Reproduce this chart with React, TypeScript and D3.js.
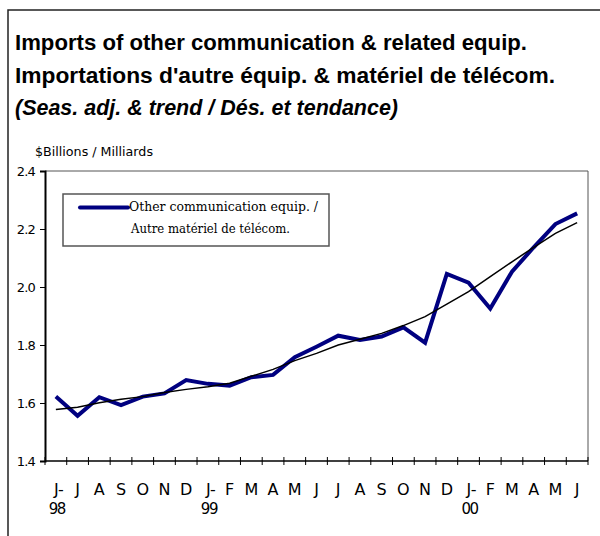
import React, { useEffect, useRef } from 'react';
import * as d3 from 'd3';

// Jun 1998 .. Jun 2000
const months = ['J-', 'J', 'A', 'S', 'O', 'N', 'D', 'J-', 'F', 'M', 'A', 'M', 'J', 'J', 'A', 'S', 'O', 'N', 'D', 'J-', 'F', 'M', 'A', 'M', 'J'];
const years = ['98', '', '', '', '', '', '', '99', '', '', '', '', '', '', '', '', '', '', '', '00', '', '', '', '', ''];
const seasAdj = [1.622, 1.556, 1.620, 1.593, 1.622, 1.633, 1.679, 1.666, 1.660, 1.689, 1.697, 1.758, 1.794, 1.832, 1.817, 1.829, 1.861, 1.808, 2.045, 2.015, 1.926, 2.053, 2.137, 2.217, 2.254];
const trend = [1.578, 1.585, 1.601, 1.613, 1.622, 1.636, 1.647, 1.656, 1.668, 1.692, 1.716, 1.746, 1.771, 1.800, 1.820, 1.840, 1.867, 1.898, 1.941, 1.984, 2.036, 2.087, 2.137, 2.185, 2.222];
const yTicks = [1.4, 1.6, 1.8, 2.0, 2.2, 2.4];

const App = () => {
  const svgRef = useRef<SVGSVGElement>(null);

  useEffect(() => {
    const svg = d3.select(svgRef.current);
    svg.selectAll('*').remove();

    const left = 45, right = 588, top = 171, bottom = 461;
    const idx = months.map((_, i) => i);

    const x = d3.scaleBand<number>().domain(idx).range([left, right]);
    const y = d3.scaleLinear().domain([1.4, 2.4]).range([bottom, top]);
    const cx = (i: number) => (x(i) as number) + x.bandwidth() / 2;

    // outer frame
    svg.append('rect')
      .attr('x', 8).attr('y', 10).attr('width', 600).attr('height', 540)
      .attr('fill', 'none').attr('stroke', '#222').attr('stroke-width', 1.5);

    // titles
    const titles = [
      { t: 'Imports of other communication & related equip.', y: 50, w: 512, italic: false },
      { t: "Importations d'autre équip. & matériel de télécom.", y: 83, w: 540, italic: false },
      { t: '(Seas. adj. & trend / Dés. et tendance)', y: 115, w: 383, italic: true },
    ];
    titles.forEach(d => {
      svg.append('text')
        .attr('x', 15).attr('y', d.y)
        .attr('font-family', 'Liberation Sans, Arial, sans-serif')
        .attr('font-weight', 'bold')
        .attr('font-style', d.italic ? 'italic' : 'normal')
        .attr('font-size', 22)
        .attr('textLength', d.w).attr('lengthAdjust', 'spacingAndGlyphs')
        .text(d.t);
    });

    svg.append('text')
      .attr('x', 35).attr('y', 156)
      .attr('font-family', 'DejaVu Sans, sans-serif')
      .attr('font-size', 12)
      .attr('textLength', 118).attr('lengthAdjust', 'spacingAndGlyphs')
      .text('$Billions / Milliards');

    // plot frame (top/right)
    svg.append('path')
      .attr('d', `M${left},${top}H${right}V${bottom}`)
      .attr('fill', 'none').attr('stroke', '#555').attr('stroke-width', 1);

    // y axis
    const yAxis = svg.append('g').attr('transform', `translate(${left},0)`)
      .call(d3.axisLeft(y).tickValues(yTicks).tickFormat(d3.format('.1f')).tickSize(5).tickPadding(5));
    yAxis.select('.domain').attr('stroke', '#000').attr('stroke-width', 2);
    yAxis.selectAll('.tick line').attr('stroke', '#000');
    yAxis.selectAll('.tick text')
      .attr('font-family', 'DejaVu Sans, sans-serif').attr('font-size', 13).attr('fill', '#000')
      .attr('letter-spacing', -0.8);

    // x axis
    const xg = svg.append('g');
    xg.append('line')
      .attr('x1', left).attr('x2', right).attr('y1', bottom).attr('y2', bottom)
      .attr('stroke', '#000').attr('stroke-width', 1.5);
    d3.range(months.length + 1).forEach(i => {
      const xx = left + i * x.step();
      xg.append('line')
        .attr('x1', xx).attr('x2', xx).attr('y1', bottom - 4).attr('y2', bottom + 4)
        .attr('stroke', '#000').attr('stroke-width', 1);
    });
    idx.forEach(i => {
      xg.append('text')
        .attr('x', cx(i) + (months[i].endsWith('-') ? 3 : 0)).attr('y', 495)
        .attr('text-anchor', 'middle')
        .attr('font-family', 'DejaVu Sans, sans-serif').attr('font-size', 16)
        .text(months[i]);
      if (years[i]) {
        xg.append('text')
          .attr('x', cx(i) + 1).attr('y', 514)
          .attr('text-anchor', 'middle')
          .attr('font-family', 'DejaVu Sans, sans-serif').attr('font-size', 15)
          .attr('letter-spacing', -1.5)
          .text(years[i]);
      }
    });

    // lines
    const line = d3.line<number>().x((_, i) => cx(i)).y(d => y(d));
    svg.append('path').datum(seasAdj)
      .attr('d', line).attr('fill', 'none')
      .attr('stroke', '#000080').attr('stroke-width', 4).attr('stroke-linejoin', 'miter');
    svg.append('path').datum(trend)
      .attr('d', line).attr('fill', 'none')
      .attr('stroke', '#000').attr('stroke-width', 1.5);

    // legend
    const lg = svg.append('g');
    lg.append('rect')
      .attr('x', 63).attr('y', 194).attr('width', 266).attr('height', 52)
      .attr('fill', '#fff').attr('stroke', '#555').attr('stroke-width', 1.5);
    lg.append('line')
      .attr('x1', 80).attr('x2', 128).attr('y1', 207.5).attr('y2', 207.5)
      .attr('stroke', '#000080').attr('stroke-width', 4).attr('stroke-linecap', 'round');
    lg.append('text')
      .attr('x', 129).attr('y', 211)
      .attr('font-family', 'DejaVu Serif, serif').attr('font-size', 13)
      .attr('textLength', 189).attr('lengthAdjust', 'spacingAndGlyphs')
      .text('Other communication equip. /');
    lg.append('text')
      .attr('x', 131).attr('y', 233)
      .attr('font-family', 'DejaVu Serif, serif').attr('font-size', 13)
      .attr('textLength', 159).attr('lengthAdjust', 'spacingAndGlyphs')
      .text('Autre matériel de télécom.');
  }, []);

  return (
    <svg ref={svgRef} width={600} height={536}
      style={{ position: 'absolute', left: 0, top: 0, background: '#fff' }} />
  );
};

export default App;
